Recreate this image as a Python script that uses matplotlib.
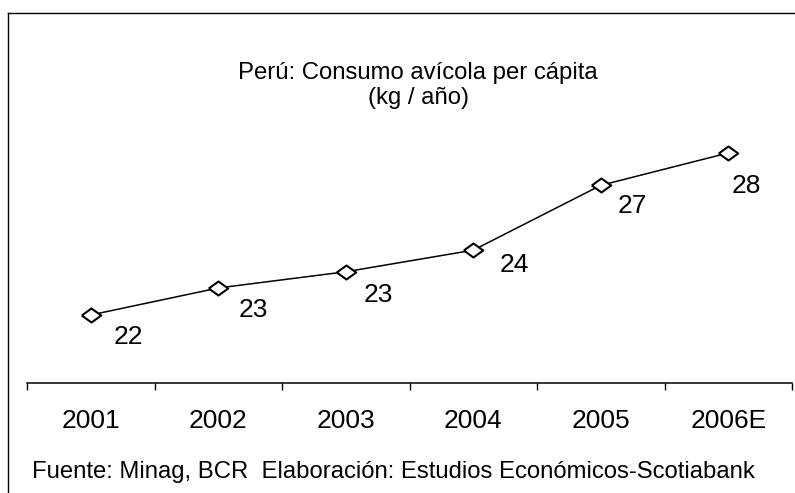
import matplotlib
matplotlib.use("Agg")
import matplotlib.pyplot as plt
from matplotlib.lines import Line2D

# ---- data ----
years = ['2001', '2002', '2003', '2004', '2005', '2006E']
consumo = [21.8, 22.8, 23.4, 24.2, 26.6, 27.8]
title_lines = ['Perú: Consumo avícola per cápita', '(kg / año)']
footer = 'Fuente: Minag, BCR  Elaboración: Estudios Económicos-Scotiabank'

plt.rcParams['font.family'] = ['Liberation Sans', 'DejaVu Sans']

W, H = 795, 493
fig = plt.figure(figsize=(W / 100, H / 100), dpi=100)
fig.patch.set_facecolor('white')

def fx(px):
    return px / W

def fy(py):
    return 1 - py / H

ax_left, ax_right, ax_bottom, ax_top = 27, 792, 382.5, 100
ax = fig.add_axes([fx(ax_left), fy(ax_bottom), fx(ax_right - ax_left), (ax_bottom - ax_top) / H])

x = list(range(len(years)))
diamond = [(-1, 0), (0, 0.72), (1, 0), (0, -0.72), (-1, 0)]
ax.plot(x, consumo, color='black', lw=1.1, marker=diamond, markersize=14,
        markerfacecolor='white', markeredgecolor='black', markeredgewidth=1.5, zorder=3)

# label offsets in pixels (dx, baseline dy downward)
offs = [(38, 29), (35, 29), (33, 30), (41, 22), (32, 28), (18.5, 40)]
for xi, v, (dx, dy) in zip(x, consumo, offs):
    ax.annotate(f"{v:.0f}", (xi, v), xytext=(dx * 0.72, -dy * 0.72), textcoords='offset points',
                ha='center', va='baseline', fontsize=19, color='black')

ax.set_xlim(-0.5, len(years) - 0.5)
ax.set_ylim(19.3, 29.76)
for s in ['top', 'right', 'left']:
    ax.spines[s].set_visible(False)
ax.spines['bottom'].set_linewidth(1.1)
ax.set_yticks([])
ax.set_xticks([i - 0.5 for i in range(len(years) + 1)])
ax.set_xticklabels([])
ax.tick_params(axis='x', which='major', direction='out', length=5, width=1)
ax.set_xticks(x, minor=True)
ax.set_xticklabels(years, minor=True)
ax.tick_params(axis='x', which='minor', length=0, pad=19, labelsize=19)
ax.patch.set_alpha(0)

fig.text(fx(418), fy(79), title_lines[0], ha='center', va='baseline', fontsize=17.2)
fig.text(fx(418), fy(104), title_lines[1], ha='center', va='baseline', fontsize=17.2)
fig.text(fx(32), fy(478), footer, ha='left', va='baseline', fontsize=17.2)

fig.add_artist(Line2D([fx(8), 1], [fy(13), fy(13)], color='black', lw=1))
fig.add_artist(Line2D([fx(8), fx(8)], [fy(13), 0], color='black', lw=1))

fig.savefig('out.png', dpi=100, facecolor='white')
